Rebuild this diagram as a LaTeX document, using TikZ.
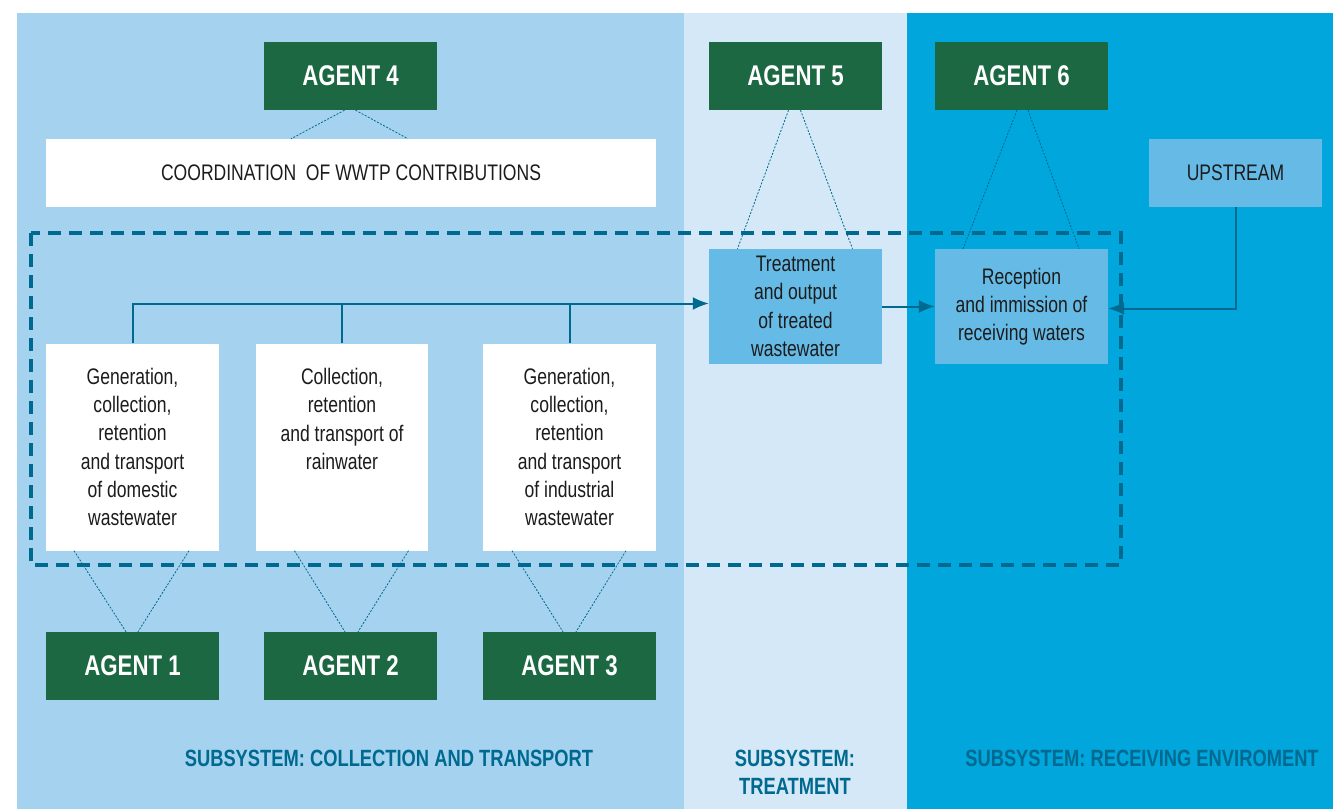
\documentclass[tikz,border=0pt]{standalone}
\usepackage{fontspec}
\setmainfont[FakeStretch=0.78]{Liberation Sans}
\usetikzlibrary{arrows.meta,calc,positioning}
\definecolor{panelA}{RGB}{165,211,239}
\definecolor{panelB}{RGB}{213,232,247}
\definecolor{panelC}{RGB}{0,166,220}
\definecolor{agentgreen}{RGB}{27,104,66}
\definecolor{boxblue}{RGB}{102,187,230}
\definecolor{linkteal}{RGB}{0,105,143}
\definecolor{inktext}{RGB}{28,28,28}

\begin{document}
\begin{tikzpicture}[x=1pt,y=-1pt,
  agent/.style={fill=agentgreen,text=white,minimum width=173pt,minimum height=68pt,
                inner sep=0pt,font=\fontsize{28.5}{30}\selectfont\bfseries},
  whitebox/.style={fill=white,text=inktext,align=center,inner sep=0pt,
                   font=\fontsize{22.5}{28.3}\selectfont},
  bluebox/.style={whitebox,fill=boxblue},
  dotlink/.style={draw=linkteal,line width=0.8pt,dash pattern=on 2pt off 1.5pt},
  busline/.style={draw=linkteal,line width=2pt},
  flow/.style={busline,-{Latex[length=16pt,width=13pt]}},
  sysframe/.style={draw=linkteal,line width=4pt,dash pattern=on 13pt off 8pt},
  subsys/.style={text=linkteal,align=center,font=\fontsize{23.5}{28}\selectfont\bfseries}
]
  \useasboundingbox (0,0) rectangle (1333,809);

  % subsystem panels
  \fill[panelA] (17,13) rectangle (684,809);
  \fill[panelB] (684,13) rectangle (907,809);
  \fill[panelC] (907,13) rectangle (1333,809);

  \draw[sysframe] (31,233) rectangle (1121,565);

  \node[agent] (agent4) at (350.5,76) {AGENT 4};
  \node[agent] (agent5) at (795.5,76) {AGENT 5};
  \node[agent] (agent6) at (1021.5,76) {AGENT 6};
  \node[agent] (agent1) at (132.5,666) {AGENT 1};
  \node[agent] (agent2) at (350.5,666) {AGENT 2};
  \node[agent] (agent3) at (569.5,666) {AGENT 3};

  \node[whitebox,minimum width=610pt,minimum height=68pt] (coord) at (351,173)
    {COORDINATION\ \ OF WWTP CONTRIBUTIONS};
  \node[bluebox,minimum width=173pt,minimum height=68pt] (upstream) at (1235.5,173)
    {UPSTREAM};

  \node[whitebox,minimum width=173pt,minimum height=207pt] (proc1) at (132.5,447)
    {Generation,\\collection,\\retention\\and transport\\of domestic\\wastewater};
  \node[whitebox,minimum width=172pt,minimum height=207pt] (proc2) at (342,447)
    {Collection,\\retention\\and transport of\\rainwater\\~\\~};
  \node[whitebox,minimum width=173pt,minimum height=207pt] (proc3) at (569.5,447)
    {Generation,\\collection,\\retention\\and transport\\of industrial\\wastewater};

  \node[bluebox,minimum width=173pt,minimum height=115pt] (treat) at (795.5,306.5)
    {Treatment\\and output\\of treated\\wastewater};
  \node[bluebox,minimum width=173pt,minimum height=115pt] (recep) at (1021.5,306.5)
    {Reception\\and immission of\\receiving waters};

  % agents to their tasks
  \draw[dotlink] ([xshift=-6pt]agent4.south) -- ([xshift=-60pt]coord.north);
  \draw[dotlink] ([xshift=5pt]agent4.south) -- ([xshift=57pt]coord.north);
  \draw[dotlink] ([xshift=-7pt]agent5.south) -- ([xshift=-58pt]treat.north);
  \draw[dotlink] ([xshift=5pt]agent5.south) -- ([xshift=57pt]treat.north);
  \draw[dotlink] ([xshift=-4.5pt]agent6.south) -- ([xshift=-58.5pt]recep.north);
  \draw[dotlink] ([xshift=6.5pt]agent6.south) -- ([xshift=57.5pt]recep.north);
  \draw[dotlink] ([xshift=-58.5pt]proc1.south) -- ([xshift=-6.5pt]agent1.north);
  \draw[dotlink] ([xshift=56.5pt]proc1.south) -- ([xshift=5.5pt]agent1.north);
  \draw[dotlink] ([xshift=-56pt]agent2.north |- proc2.south) -- ([xshift=-5.5pt]agent2.north);
  \draw[dotlink] ([xshift=58pt]agent2.north |- proc2.south) -- ([xshift=7.5pt]agent2.north);
  \draw[dotlink] ([xshift=-57.5pt]proc3.south) -- ([xshift=-6.5pt]agent3.north);
  \draw[dotlink] ([xshift=56.5pt]proc3.south) -- ([xshift=6.5pt]agent3.north);

  % flows
  \coordinate (bus) at ([yshift=3pt]treat.west);
  \draw[flow] (proc1.north) |- (bus);
  \draw[busline] (proc2.north) -- (proc2.north |- bus);
  \draw[busline] (proc3.north) -- (proc3.north |- bus);
  \draw[flow] (treat.east) -- (recep.west);
  \draw[flow] (upstream.south) |- ([yshift=-2pt]recep.east);

  \node[subsys] (subA) at (389,758) {SUBSYSTEM: COLLECTION AND TRANSPORT};
  \node[subsys] (subB) at (795,772) {SUBSYSTEM:\\TREATMENT};
  \node[subsys] (subC) at (1142,758) {SUBSYSTEM: RECEIVING ENVIROMENT};
\end{tikzpicture}
\end{document}
